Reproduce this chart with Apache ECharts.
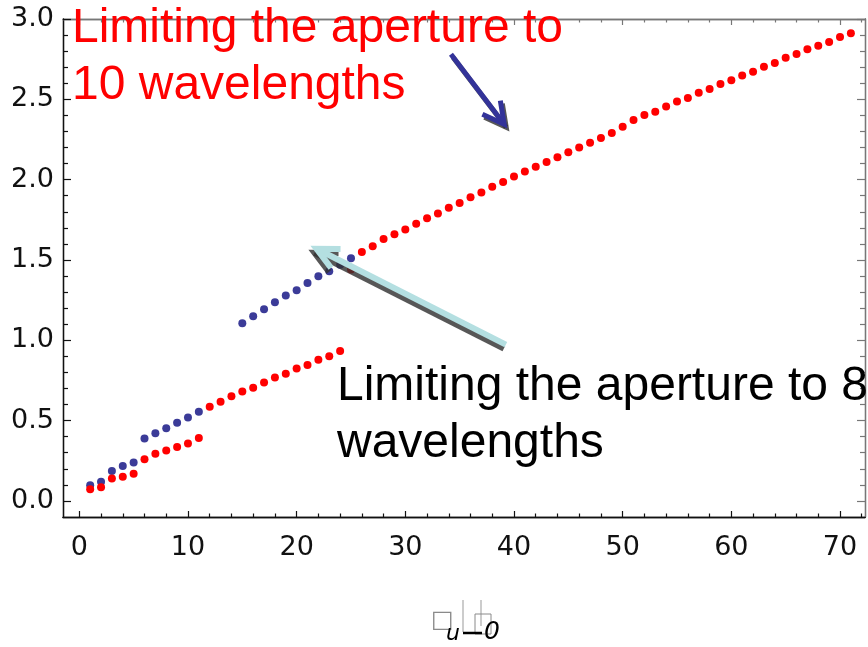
<!DOCTYPE html>
<html>
<head>
<meta charset="utf-8">
<script src="https://cdn.jsdelivr.net/npm/echarts@6/dist/echarts.min.js"></script>
<style>
  html, body { margin: 0; padding: 0; background: #fff; }
  #chart { width: 868px; height: 647px; }
</style>
</head>
<body>
<div id="chart"></div>
<script>
// Tick positions
const xMajorTicks = [0, 10, 20, 30, 40, 50, 60, 70];
const yMajorTicks = [0, 0.5, 1.0, 1.5, 2.0, 2.5, 3.0];

// Aperture limited to 8 wavelengths (blue) and 10 wavelengths (red)
const blueLowX = [1, 2, 3, 4, 5, 6, 7, 8, 9, 10, 11];
const blueLowY = [0.098, 0.119, 0.187, 0.218, 0.239, 0.389, 0.422, 0.453, 0.487, 0.520, 0.555];

const redLowX = [1, 2, 3, 4, 5, 6, 7, 8, 9, 10, 11];
const redLowY = [0.073, 0.085, 0.139, 0.150, 0.170, 0.260, 0.293, 0.314, 0.335, 0.357, 0.391];

const redMidX = [12, 13, 14, 15, 16, 17, 18, 19, 20, 21, 22, 23, 24];
const redMidY = [0.586, 0.618, 0.651, 0.682, 0.705, 0.738, 0.769, 0.792, 0.825, 0.846, 0.879, 0.900, 0.934];

const blueHighX = [15, 16, 17, 18, 19, 20, 21, 22, 23, 24, 25];
const blueHighY = [1.106, 1.150, 1.193, 1.237, 1.279, 1.312, 1.356, 1.399, 1.430, 1.470, 1.510];

const redHighX = [25, 26, 27, 28, 29, 30, 31, 32, 33, 34, 35, 36, 37, 38, 39, 40,
  41, 42, 43, 44, 45, 46, 47, 48, 49, 50, 51, 52, 53, 54, 55, 56, 57, 58, 59, 60,
  61, 62, 63, 64, 65, 66, 67, 68, 69, 70, 71];
const redHighY = [1.440, 1.550, 1.586, 1.630, 1.660, 1.690, 1.725, 1.760, 1.790, 1.825, 1.855, 1.890,
  1.920, 1.955, 1.985, 2.020, 2.050, 2.080, 2.110, 2.140, 2.170, 2.200, 2.230, 2.260, 2.290, 2.330,
  2.372, 2.402, 2.422, 2.456, 2.487, 2.508, 2.541, 2.564, 2.595, 2.618, 2.649, 2.672, 2.703, 2.726,
  2.759, 2.782, 2.812, 2.834, 2.857, 2.888, 2.911];

// Annotation arrows, in data coordinates: [tail, tip]
const arrow10 = [[34.2, 2.78], [39.1, 2.345]];
const arrow8 = [[39.25, 0.973], [21.83, 1.57]];

const BLUE = '#3b3b98';
const RED = '#ff0000';

const xMin = -1.5, xMax = 72.3, yMin = -0.1, yMax = 3.0;

function minorBetween(major, step, lo, hi) {
  const out = [];
  for (let v = lo; v <= hi + 1e-9; v += step) {
    const r = Math.round(v * 100) / 100;
    if (!major.some(m => Math.abs(m - r) < 1e-6)) out.push(r);
  }
  return out;
}
const xMinorTicks = minorBetween(xMajorTicks, 2, 0, 72);
const yMinorTicks = minorBetween(yMajorTicks, 0.1, 0, 3.0);

function zip(xs, ys) { return xs.map((x, i) => [x, ys[i]]); }

const labelFont = { fontFamily: 'DejaVu Sans', fontSize: 27, color: '#111' };

function xAxisDef(pos, ticks, len, color, labels) {
  return {
    type: 'value', position: pos, min: xMin, max: xMax, gridIndex: 0,
    axisLine: { show: true, onZero: false, lineStyle: { color: color, width: 1.3 } },
    axisTick: { show: true, inside: true, length: len, customValues: ticks, lineStyle: { color: color, width: 1.2 } },
    axisLabel: labels
      ? Object.assign({ show: true, margin: 17, customValues: ticks }, labelFont)
      : { show: false },
    splitLine: { show: false }
  };
}
function yAxisDef(pos, ticks, len, color, labels) {
  return {
    type: 'value', position: pos, min: yMin, max: yMax, gridIndex: 0,
    axisLine: { show: true, onZero: false, lineStyle: { color: color, width: 1.3 } },
    axisTick: { show: true, inside: true, length: len, customValues: ticks, lineStyle: { color: color, width: 1.2 } },
    axisLabel: labels
      ? Object.assign({ show: true, margin: 9, customValues: ticks, formatter: v => v.toFixed(1) }, labelFont)
      : { show: false },
    splitLine: { show: false }
  };
}

function dots(xs, ys, color) {
  return {
    type: 'scatter', xAxisIndex: 0, yAxisIndex: 0,
    data: zip(xs, ys), symbol: 'circle', symbolSize: 8,
    itemStyle: { color: color, opacity: 1 }, z: 3
  };
}

const chart = echarts.init(document.getElementById('chart'), null, { renderer: 'canvas' });
chart.setOption({
  animation: false,
  backgroundColor: '#fff',
  grid: { left: 63, right: 3, top: 19, bottom: 130, containLabel: false },
  xAxis: [
    xAxisDef('bottom', xMajorTicks, 6, '#111', true),
    xAxisDef('bottom', xMinorTicks, 3.5, '#111', false),
    xAxisDef('top', xMajorTicks, 6, '#777', false),
    xAxisDef('top', xMinorTicks, 3.5, '#777', false)
  ],
  yAxis: [
    yAxisDef('left', yMajorTicks, 8, '#111', true),
    yAxisDef('left', yMinorTicks, 5, '#111', false),
    yAxisDef('right', yMajorTicks, 8, '#777', false),
    yAxisDef('right', yMinorTicks, 5, '#777', false)
  ],
  series: [
    dots(blueLowX, blueLowY, BLUE),
    dots(redLowX, redLowY, RED),
    dots(redMidX, redMidY, RED),
    dots(redHighX, redHighY, RED),
    dots(blueHighX, blueHighY, BLUE)
  ]
});

// Arrow with a chevron head and a flat drop shadow
function arrowElems(tail, tip, color, width, shadowDx, shadowDy, barb, angleDeg, z) {
  const p0 = chart.convertToPixel({ gridIndex: 0 }, tail);
  const p1 = chart.convertToPixel({ gridIndex: 0 }, tip);
  const dx = p0[0] - p1[0], dy = p0[1] - p1[1];
  const len = Math.hypot(dx, dy);
  const ux = dx / len, uy = dy / len;
  const a = angleDeg * Math.PI / 180;
  const rot = (s) => [
    p1[0] + barb * (ux * Math.cos(s) - uy * Math.sin(s)),
    p1[1] + barb * (ux * Math.sin(s) + uy * Math.cos(s))
  ];
  const b1 = rot(a), b2 = rot(-a);
  const make = (ox, oy, col, zz) => [
    { type: 'polyline', z: zz, shape: { points: [[p0[0] + ox, p0[1] + oy], [p1[0] + ox, p1[1] + oy]] },
      style: { stroke: col, lineWidth: width, fill: null, lineCap: 'butt' } },
    { type: 'polyline', z: zz, shape: { points: [[b1[0] + ox, b1[1] + oy], [p1[0] + ox, p1[1] + oy], [b2[0] + ox, b2[1] + oy]] },
      style: { stroke: col, lineWidth: width, fill: null, lineJoin: 'miter', lineCap: 'butt' } }
  ];
  return make(shadowDx, shadowDy, 'rgba(50,50,50,0.82)', z).concat(make(0, 0, color, z + 1));
}

const graphics = []
  .concat(arrowElems(arrow10[0], arrow10[1], '#333399', 5, 2, 3, 24, 28, 10))
  .concat(arrowElems(arrow8[0], arrow8[1], '#b4dfe1', 6, -2, 4, 24, 26, 10));

graphics.push(
  {
    type: 'text', left: 72, top: 0, z: 20,
    style: {
      text: 'Limiting the aperture to\n10 wavelengths',
      fill: '#ff0000', font: '48px "Liberation Sans", Arial, sans-serif', lineHeight: 57
    }
  },
  {
    type: 'text', left: 337, top: 358, z: 20,
    style: {
      text: 'Limiting the aperture to 8\nwavelengths',
      fill: '#000000', font: '48px "Liberation Sans", Arial, sans-serif', lineHeight: 57
    }
  },
  // axis caption
  { type: 'text', left: 431, top: 609, z: 20,
    style: { text: '\u25A1', fill: '#8a8a8a', font: '24px "DejaVu Sans"' } },
  { type: 'text', left: 446, top: 623, z: 21,
    style: { text: 'u', fill: '#000', font: 'italic 22px "DejaVu Sans"' } },
  { type: 'line', z: 20, shape: { x1: 463, y1: 600, x2: 463, y2: 632 },
    style: { stroke: '#999', lineWidth: 1 } },
  { type: 'line', z: 20, shape: { x1: 481, y1: 600, x2: 481, y2: 626 },
    style: { stroke: '#999', lineWidth: 1 } },
  { type: 'line', z: 21, shape: { x1: 463, y1: 633, x2: 482, y2: 633 },
    style: { stroke: '#000', lineWidth: 2.5 } },
  { type: 'rect', z: 20, shape: { x: 475, y: 614, width: 16, height: 20 },
    style: { stroke: '#8a8a8a', fill: null, lineWidth: 1 } },
  { type: 'text', left: 484, top: 620, z: 21,
    style: { text: '0', fill: '#000', font: 'italic 25px "DejaVu Sans"' } }
);

chart.setOption({ graphic: graphics });
</script>
</body>
</html>
